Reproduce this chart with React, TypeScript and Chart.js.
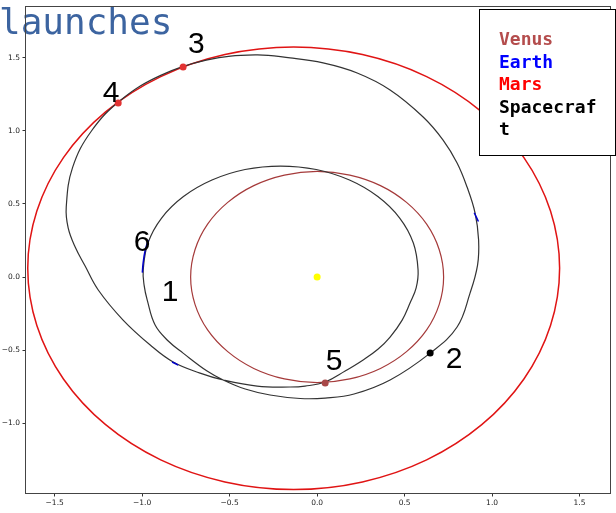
import React, { useEffect, useRef } from "react";
import { Chart, registerables } from "chart.js";

Chart.register(...registerables);

const titleText = "launches";
const xTicks = [-1.5, -1.0, -0.5, 0.0, 0.5, 1.0, 1.5];
const yTicks = [-1.0, -0.5, 0.0, 0.5, 1.0, 1.5];

// closed orbits: points listed once around the loop
const venusOrbit: [number, number][] = [
  [0.723, 0], [0.698, 0.187], [0.626, 0.362], [0.511, 0.511], [0.362, 0.626], [0.187, 0.698],
  [0, 0.723], [-0.187, 0.698], [-0.362, 0.626], [-0.511, 0.511], [-0.626, 0.362], [-0.698, 0.187],
  [-0.723, 0], [-0.698, -0.187], [-0.626, -0.362], [-0.511, -0.511], [-0.362, -0.626], [-0.187, -0.698],
  [0, -0.723], [0.187, -0.698], [0.362, -0.626], [0.511, -0.511], [0.626, -0.362], [0.698, -0.187],
];

const marsOrbit: [number, number][] = [
  [1.386, 0.06], [1.334, 0.452], [1.182, 0.818], [0.941, 1.131], [0.626, 1.372], [0.259, 1.523],
  [-0.134, 1.575], [-0.527, 1.523], [-0.894, 1.372], [-1.209, 1.131], [-1.45, 0.818], [-1.602, 0.452],
  [-1.654, 0.06], [-1.602, -0.332], [-1.45, -0.698], [-1.209, -1.011], [-0.894, -1.252], [-0.527, -1.403],
  [-0.134, -1.455], [0.259, -1.403], [0.626, -1.252], [0.941, -1.011], [1.182, -0.698], [1.334, -0.332],
];

const earthArc1: [number, number][] = [[-0.966, 0.253], [-0.985, 0.17], [-0.995, 0.09], [-0.999, 0.03]];
const earthArc2: [number, number][] = [[0.898, 0.44], [0.91, 0.41], [0.922, 0.38]];
const earthArc3: [number, number][] = [[-0.829, -0.582], [-0.794, -0.603]];

const spacecraftPath: [number, number][] = [
  [-1.434, 0.479], [-1.398, 0.749], [-1.29, 1.0], [-1.118, 1.216], [-0.894, 1.381], [-0.634, 1.485],
  [-0.354, 1.521], [-0.154, 1.5], [0.034, 1.466], [0.229, 1.397],
  [0.417, 1.281], [0.606, 1.096], [0.72, 0.938], [0.8, 0.781], [0.857, 0.616], [0.903, 0.438],
  [0.923, 0.253], [0.917, 0.082], [0.874, -0.11], [0.8, -0.342], [0.646, -0.521], [0.417, -0.705],
  [0.211, -0.801], [0.046, -0.829], [-0.097, -0.832], [-0.269, -0.808], [-0.411, -0.767], [-0.537, -0.705],
  [-0.629, -0.644], [-0.766, -0.521], [-0.851, -0.438], [-0.926, -0.329], [-0.971, -0.158], [-0.989, -0.055],
  [-0.994, 0.048], [-0.967, 0.233], [-0.889, 0.404], [-0.764, 0.551], [-0.601, 0.664], [-0.412, 0.736],
  [-0.209, 0.76], [-0.005, 0.736], [0.185, 0.664], [0.347, 0.551], [0.472, 0.404], [0.55, 0.233],
  [0.577, 0.048], [0.566, -0.075], [0.531, -0.178], [0.486, -0.295], [0.417, -0.411], [0.349, -0.493],
  [0.263, -0.568], [0.16, -0.644], [0.046, -0.719], [-0.069, -0.747], [-0.154, -0.753], [-0.343, -0.747],
  [-0.537, -0.705], [-0.669, -0.658], [-0.823, -0.582], [-0.954, -0.466], [-1.109, -0.295], [-1.251, -0.089],
  [-1.326, 0.075], [-1.383, 0.205], [-1.423, 0.336],
];

const markerPoints: [number, number][] = [[-0.766, 1.438], [-1.137, 1.192], [0.646, -0.521], [0.046, -0.726], [0, 0]];
const markerColors = ["#e23333", "#e23333", "#000000", "#a84848", "#ffff00"];

const labelTexts = ["1", "2", "3", "4", "5", "6"];
const labelPositions: [number, number][] = [
  [-0.84, -0.089], [0.783, -0.548], [-0.691, 1.603], [-1.177, 1.267], [0.097, -0.568], [-1.0, 0.247],
];

const legendNames = ["Venus", "Earth", "Mars", "Spacecraf", "t"];
const legendColors = ["#b44c4c", "#0000ff", "#ff0000", "#000000", "#000000"];

const toXY = (arr: [number, number][]) => arr.map(([x, y]) => ({ x, y }));
const fmt = (v: any) => Number(v).toFixed(1).replace("-", "\u2212");

// make the line elements of closed orbits wrap around (as Chart.js does for radar charts)
const loopPlugin = {
  id: "closedLoops",
  afterDatasetsUpdate(chart: any) {
    chart.data.datasets.forEach((ds: any, i: number) => {
      if (!ds.closedLoop) return;
      const line = chart.getDatasetMeta(i).dataset;
      if (!line) return;
      line._loop = true;
      line._fullLoop = true;
      line._segments = undefined;
      line._pointsUpdated = false;
    });
  },
};

const decorPlugin = {
  id: "decor",
  beforeDraw(chart: any) {
    const ctx = chart.ctx;
    ctx.save();
    ctx.font = "36px 'DejaVu Sans Mono'";
    ctx.fillStyle = "#3c64a0";
    ctx.textAlign = "left";
    ctx.textBaseline = "alphabetic";
    ctx.fillText(titleText, -1, 34);
    ctx.restore();
  },
  afterDatasetsDraw(chart: any) {
    const ctx = chart.ctx;
    const ca = chart.chartArea;
    const xs = chart.scales.x;
    const ys = chart.scales.y;
    ctx.save();
    ctx.font = "30px 'Liberation Sans'";
    ctx.fillStyle = "#000";
    ctx.textAlign = "center";
    ctx.textBaseline = "alphabetic";
    labelTexts.forEach((t, i) => {
      const px = xs.getPixelForValue(labelPositions[i][0]);
      const py = ys.getPixelForValue(labelPositions[i][1]);
      ctx.fillText(t, px, py + 10.5);
    });
    ctx.strokeStyle = "#444";
    ctx.lineWidth = 1;
    ctx.strokeRect(Math.round(ca.left) - 0.5, Math.round(ca.top) - 0.5, Math.round(ca.right - ca.left) + 1, Math.round(ca.bottom - ca.top) + 1);
    ctx.restore();
  },
  afterDraw(chart: any) {
    const ctx = chart.ctx;
    ctx.save();
    ctx.fillStyle = "#fff";
    ctx.fillRect(479.5, 9.5, 136, 146);
    ctx.strokeStyle = "#000";
    ctx.lineWidth = 1;
    ctx.strokeRect(479.5, 9.5, 136, 146);
    ctx.font = "bold 18px 'DejaVu Sans Mono'";
    ctx.textAlign = "left";
    ctx.textBaseline = "alphabetic";
    legendNames.forEach((n, i) => {
      ctx.fillStyle = legendColors[i];
      ctx.fillText(n, 499, 45 + i * 22.5);
    });
    ctx.restore();
  },
};

export default function App() {
  const ref = useRef<HTMLCanvasElement | null>(null);
  useEffect(() => {
    if (!ref.current) return;
    const tickFont = { family: "'DejaVu Sans'", size: 7.5 };
    const chart = new Chart(ref.current, {
      type: "scatter",
      data: {
        datasets: [
          {
            data: toXY(markerPoints),
            pointRadius: 3.5,
            pointBackgroundColor: markerColors,
            pointBorderWidth: 0,
            showLine: false,
          },
          { data: toXY(earthArc1), showLine: true, borderColor: "#0000cc", borderWidth: 1.5, pointRadius: 0, tension: 0.4 },
          { data: toXY(earthArc2), showLine: true, borderColor: "#0000cc", borderWidth: 1.5, pointRadius: 0, tension: 0.4 },
          { data: toXY(earthArc3), showLine: true, borderColor: "#0000cc", borderWidth: 1.5, pointRadius: 0, tension: 0.4 },
          { data: toXY(spacecraftPath), closedLoop: true, showLine: true, borderColor: "#333333", borderWidth: 1.2, pointRadius: 0, tension: 0.4 },
          { data: toXY(marsOrbit), closedLoop: true, showLine: true, borderColor: "#e01414", borderWidth: 1.5, pointRadius: 0, tension: 0.34 },
          { data: toXY(venusOrbit), closedLoop: true, showLine: true, borderColor: "#a53a3a", borderWidth: 1.2, pointRadius: 0, tension: 0.34 },
        ],
      },
      options: {
        animation: false,
        responsive: false,
        maintainAspectRatio: false,
        events: [],
        layout: { padding: { top: 7, right: 6, left: 0, bottom: 0 } },
        plugins: { legend: { display: false }, tooltip: { enabled: false }, title: { display: false } },
        scales: {
          x: {
            type: "linear",
            min: -1.664,
            max: 1.674,
            afterFit: (s: any) => { s.height = 20; },
            afterBuildTicks: (s: any) => { s.ticks = xTicks.map((v) => ({ value: v })); },
            ticks: { font: tickFont, color: "#222", padding: 2, maxRotation: 0, autoSkip: false, callback: fmt },
            grid: { drawOnChartArea: false, drawTicks: true, tickLength: 3.5, tickColor: "#333" },
            border: { display: false },
          },
          y: {
            type: "linear",
            min: -1.479,
            max: 1.849,
            afterFit: (s: any) => { s.width = 26; },
            afterBuildTicks: (s: any) => { s.ticks = yTicks.map((v) => ({ value: v })); },
            ticks: { font: tickFont, color: "#222", padding: 2.5, autoSkip: false, callback: fmt },
            grid: { drawOnChartArea: false, drawTicks: true, tickLength: 3.5, tickColor: "#333" },
            border: { display: false },
          },
        },
      },
      plugins: [loopPlugin, decorPlugin],
    } as any);
    return () => chart.destroy();
  }, []);
  return (
    <div style={{ position: "fixed", left: 0, top: 0, width: 616, height: 513, background: "#fff" }}>
      <canvas ref={ref} width={616} height={513} style={{ display: "block" }} />
    </div>
  );
}
